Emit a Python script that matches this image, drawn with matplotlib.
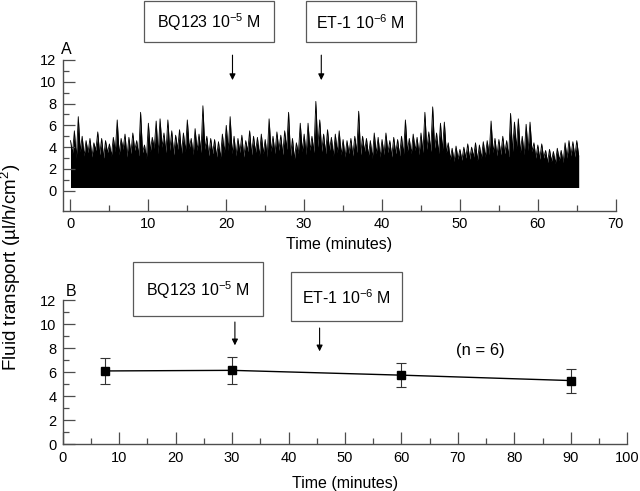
import numpy as np
import matplotlib
matplotlib.use("Agg")
import matplotlib.pyplot as plt
from matplotlib.patches import Rectangle

plt.rcParams["font.family"] = ["Liberation Sans", "DejaVu Sans"]
plt.rcParams["mathtext.fontset"] = "custom"
plt.rcParams["mathtext.rm"] = "Liberation Sans"
plt.rcParams["mathtext.it"] = "Liberation Sans:italic"

# panel A: continuous recording, every 0.5 min
trace_step = 0.5
trace_floor = 0.3
trace_peaks = [
    4.6, 5.5, 6.8, 5.0, 4.6, 4.8, 4.4, 5.4, 4.8, 4.6,
    4.3, 4.9, 6.5, 4.8, 5.2, 4.9, 5.3, 4.6, 7.2, 4.2,
    6.2, 4.9, 6.4, 6.6, 5.3, 6.5, 5.5, 5.1, 5.6, 5.3,
    6.5, 4.8, 5.7, 5.2, 7.8, 5.0, 4.8, 4.7, 4.5, 5.2,
    6.0, 6.8, 5.0, 4.8, 5.1, 4.6, 5.5, 5.0, 4.9, 5.2,
    4.7, 6.6, 5.0, 5.4, 5.1, 5.5, 7.2, 4.8, 4.4, 6.2,
    5.2, 6.2, 5.0, 8.2, 6.5, 5.2, 5.6, 4.9, 5.2, 5.5,
    4.7, 4.6, 4.8, 5.0, 7.3, 5.0, 4.8, 4.6, 5.3, 4.9,
    4.7, 5.3, 4.6, 4.9, 4.7, 5.0, 6.5, 4.8, 5.2, 4.9,
    5.3, 7.2, 5.4, 7.7, 5.3, 6.2, 6.3, 4.4, 3.9, 4.1,
    3.8, 4.0, 4.3, 4.0, 4.4, 4.2, 4.5, 4.6, 6.4, 4.8,
    4.7, 5.0, 4.6, 7.1, 6.3, 6.6, 5.0, 6.1, 6.3, 4.4,
    4.2, 4.3, 3.7, 3.8, 3.6, 3.9, 3.7, 4.4, 4.6, 4.5,
    4.6,
]
# dips of the upper edge between the peaks
trace_dips = [
    3.4, 3.0, 3.6, 3.2, 3.5, 3.1, 3.7, 3.3, 3.0, 3.5,
    3.2, 3.6, 3.3, 3.8, 3.1, 3.4, 3.7, 3.2, 3.5, 3.0,
    3.6, 3.9, 3.4, 4.0, 3.5, 3.7, 3.3, 3.8, 3.4, 3.6,
    3.9, 3.3, 3.7, 3.5, 3.8, 3.2, 3.4, 3.1, 3.0, 3.5,
    3.7, 3.4, 3.2, 3.5, 3.1, 3.6, 3.3, 3.5, 3.2, 3.4,
    3.1, 3.6, 3.4, 3.7, 3.3, 3.8, 3.2, 2.9, 3.4, 3.6,
    3.3, 3.7, 3.5, 4.0, 3.6, 3.4, 3.7, 3.2, 3.5, 3.3,
    3.1, 3.4, 3.2, 3.5, 3.3, 3.6, 3.2, 3.0, 3.4, 3.1,
    3.3, 3.5, 3.1, 3.4, 3.2, 3.3, 3.6, 3.4, 3.7, 3.3,
    3.5, 3.8, 3.6, 3.9, 3.4, 3.7, 3.5, 2.9, 2.7, 2.9,
    2.8, 3.0, 2.9, 3.1, 2.8, 3.0, 3.1, 3.3, 3.5, 3.2,
    3.3, 3.4, 3.1, 3.6, 3.9, 3.5, 3.3, 3.7, 3.6, 3.0,
    2.9, 3.0, 2.6, 2.7, 2.5, 2.8, 2.6, 3.0, 3.2, 3.1,
    3.2,
]
top_arrow_times = [20.8, 32.2]

# panel B: means +/- error
b_times = [7.5, 30, 60, 90]
b_means = [6.1, 6.15, 5.75, 5.3]
b_errors = [1.1, 1.15, 1.0, 1.0]
b_arrow_times = [30.5, 45.5]

W, H = 640, 491


def fx(x):
    return x / W


def fy(y):
    return 1 - y / H


def style_axis(ax):
    for side in ["top", "right"]:
        ax.spines[side].set_visible(False)
    for side in ["left", "bottom"]:
        ax.spines[side].set_color("0.3")
        ax.spines[side].set_linewidth(1.0)
    ax.tick_params(which="major", direction="in", length=8.5, width=0.9,
                   color="0.3", labelsize=10.5, pad=4.5)
    ax.tick_params(which="minor", direction="in", length=4.5, width=0.9,
                   color="0.3")


def add_box(fig, x0, y0, x1, y1, label):
    fig.add_artist(Rectangle((fx(x0), fy(y1)), (x1 - x0) / W, (y1 - y0) / H,
                             transform=fig.transFigure, fill=False,
                             edgecolor="0.35", lw=0.9))
    fig.text(fx((x0 + x1) / 2), fy((y0 + y1) / 2 + 1), label,
             ha="center", va="center", fontsize=11.5)


def main():
    fig = plt.figure(figsize=(6.4, 4.91), dpi=100)

    # ---- panel A ----
    ax1 = fig.add_axes([fx(62.7), fy(210.7), (615.7 - 62.7) / W, 150.7 / H])
    n = len(trace_peaks)
    t0 = np.arange(n) * trace_step
    xs = np.empty(2 * n)
    ys = np.empty(2 * n)
    xs[0::2] = t0
    xs[1::2] = t0 + trace_step / 2
    ys[0::2] = trace_peaks
    ys[1::2] = trace_dips
    ax1.fill_between(xs, trace_floor, ys, color="black", lw=0)
    ax1.plot(xs, ys, color="black", lw=0.6)
    ax1.set_xlim(-1, 70)
    ax1.set_ylim(-1.83, 12)
    ax1.set_xticks(range(0, 71, 10))
    ax1.set_xticks(range(5, 70, 10), minor=True)
    ax1.set_yticks(range(0, 13, 2))
    ax1.set_yticks(range(1, 12, 2), minor=True)
    style_axis(ax1)
    ax1.set_xlabel("Time (minutes)", fontsize=11.5, labelpad=4)
    for t in top_arrow_times:
        ax1.annotate("", xy=(t, 9.9), xytext=(t, 12.7),
                     arrowprops=dict(arrowstyle="-|>", color="black",
                                     lw=0.8, mutation_scale=9),
                     annotation_clip=False)
    fig.text(fx(61), fy(49), "A", fontsize=11.5, va="center")

    add_box(fig, 144.3, 1, 274, 41.7, r"BQ123 10$^{-5}$ M")
    add_box(fig, 305.7, 1, 416, 41.7, r"ET-1 10$^{-6}$ M")

    # ---- panel B ----
    ax2 = fig.add_axes([fx(62.7), fy(444.3), (627.3 - 62.7) / W, 144.3 / H])
    ax2.errorbar(b_times, b_means, yerr=b_errors, color="black", lw=1.0,
                 marker="s", markersize=6, capsize=3.5, elinewidth=0.8,
                 capthick=0.8, ecolor="0.2")
    ax2.set_xlim(0, 100)
    ax2.set_ylim(0, 12)
    ax2.set_xticks(range(0, 101, 10))
    ax2.set_xticks(range(5, 100, 10), minor=True)
    ax2.set_yticks(range(0, 13, 2))
    ax2.set_yticks(range(1, 12, 2), minor=True)
    style_axis(ax2)
    ax2.set_xlabel("Time (minutes)", fontsize=11.5, labelpad=8)
    arrow_spans = [(10.4, 8.0), (9.9, 7.5)]
    for t, (y_from, y_to) in zip(b_arrow_times, arrow_spans):
        ax2.annotate("", xy=(t, y_to), xytext=(t, y_from),
                     arrowprops=dict(arrowstyle="-|>", color="black",
                                     lw=0.8, mutation_scale=9),
                     annotation_clip=False)
    ax2.text(74, 7.8, "(n = 6)", fontsize=12, ha="center", va="center")
    fig.text(fx(66), fy(292), "B", fontsize=11.5, va="center")

    add_box(fig, 133, 262, 263, 316, r"BQ123 10$^{-5}$ M")
    add_box(fig, 291, 272, 402, 321, r"ET-1 10$^{-6}$ M")

    fig.text(fx(11), fy(267), "Fluid transport (µl/h/cm$^{2}$)",
             rotation=90, ha="center", va="center", fontsize=13.5)

    fig.savefig("out.png", dpi=100)


if __name__ == "__main__":
    main()
